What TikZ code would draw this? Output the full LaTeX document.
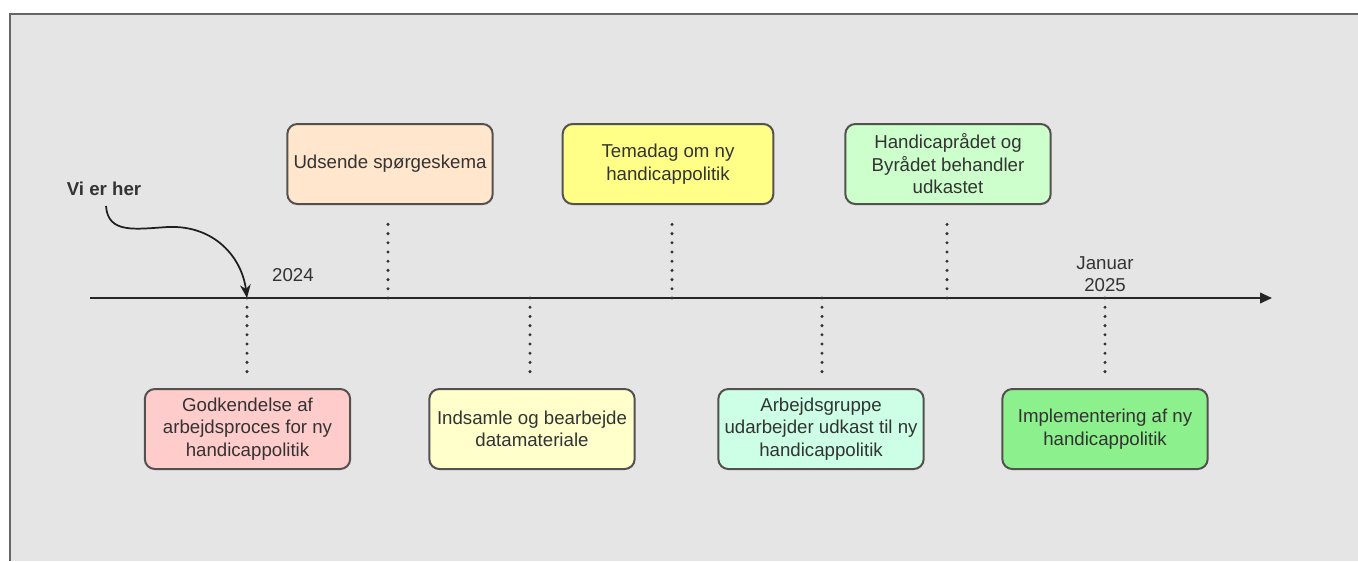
\documentclass[tikz,border=0pt]{standalone}
\usepackage{fontspec}
\setmainfont{Liberation Sans}
\usetikzlibrary{arrows.meta}
\definecolor{bggray}{HTML}{E5E5E5}
\definecolor{framegray}{HTML}{666666}
\definecolor{txtgray}{HTML}{333333}
\definecolor{boxline}{HTML}{555050}
\definecolor{cpink}{HTML}{FFCCCC}
\definecolor{cpeach}{HTML}{FFE6CC}
\definecolor{clyellow}{HTML}{FFFFCC}
\definecolor{cyellow}{HTML}{FFFF88}
\definecolor{cmint}{HTML}{CCFFE6}
\definecolor{clgreen}{HTML}{CCFFCC}
\definecolor{cgreen}{HTML}{8CF08C}
\tikzset{
  evbox/.style={draw=boxline, line width=1.5pt, rounded corners=7.5pt,
    minimum width=154pt, minimum height=60pt, align=center,
    text=txtgray, font=\fontsize{14}{16.9}\selectfont, inner sep=2pt},
  lbl/.style={text=txtgray, font=\fontsize{14}{16.9}\selectfont, align=center, inner sep=0pt},
  dotline/.style={draw=txtgray, line width=2.5pt, line cap=round, dash pattern=on 0pt off 6.9pt},
  axisline/.style={draw=black!85, line width=1.3pt, -{Triangle[length=9pt,width=8pt]}}
}
\begin{document}
\begin{tikzpicture}[x=0.75pt,y=-0.75pt]
\useasboundingbox (0,0) rectangle (1358,561);
\fill[white] (0,0) rectangle (1358,561);
\fill[bggray] (10,14) rectangle (1358,561);
\draw[framegray, line width=1.8pt] (10,561) -- (10,14) -- (1358,14);

% axis
\coordinate (a0) at (90,298);
\coordinate (aEnd) at (1272,298);
\draw[axisline] (a0) -- (aEnd);

% axis ticks
\coordinate (t1) at (247,298);
\coordinate (t2) at (388,298);
\coordinate (t3) at (530,298);
\coordinate (t4) at (672,298);
\coordinate (t5) at (822,298);
\coordinate (t6) at (947,298);
\coordinate (t7) at (1105,298);

% boxes
\node[evbox, fill=cpink] (b1) at (247.5,429) {Godkendelse af\\arbejdsproces for ny\\handicappolitik};
\node[evbox, fill=cpeach] (b2) at (390,164) {Udsende spørgeskema};
\node[evbox, fill=clyellow] (b3) at (532,429) {Indsamle og bearbejde\\datamateriale};
\node[evbox, fill=cyellow, minimum width=158pt] (b4) at (668,164) {Temadag om ny\\handicappolitik};
\node[evbox, fill=cmint] (b5) at (821,429) {Arbejdsgruppe\\udarbejder udkast til ny\\handicappolitik};
\node[evbox, fill=clgreen] (b6) at (948,164) {Handicaprådet og\\Byrådet behandler\\udkastet};
\node[evbox, fill=cgreen] (b7) at (1105,429) {Implementering af ny\\handicappolitik};

% dotted connectors
\path[dotline, shorten >=9pt] (t1) -- (t1 |- b1.north);
\path[dotline, shorten >=11pt] (t2) -- (t2 |- b2.south);
\path[dotline, shorten >=9pt] (t3) -- (t3 |- b3.north);
\path[dotline, shorten >=11pt] (t4) -- (t4 |- b4.south);
\path[dotline, shorten >=9pt] (t5) -- (t5 |- b5.north);
\path[dotline, shorten >=11pt] (t6) -- (t6 |- b6.south);
\path[dotline, shorten >=9pt] (t7) -- (t7 |- b7.north);

% labels
\node[lbl, font=\bfseries\fontsize{14}{16.9}\selectfont] (vi) at (104,189) {Vi er her};
\node[lbl] (y2024) at (293,275) {2024};
\node[lbl] (y2025) at (1105,274) {Januar\\2025};

% "Vi er her" arrow
\draw[txtgray!60!black, line width=1.3pt, -{Stealth[length=10pt,width=8pt]}]
  (106,206) .. controls (108,234) and (135,229) .. (168,227)
  .. controls (215,225) and (242,258) .. (t1);
\end{tikzpicture}
\end{document}
